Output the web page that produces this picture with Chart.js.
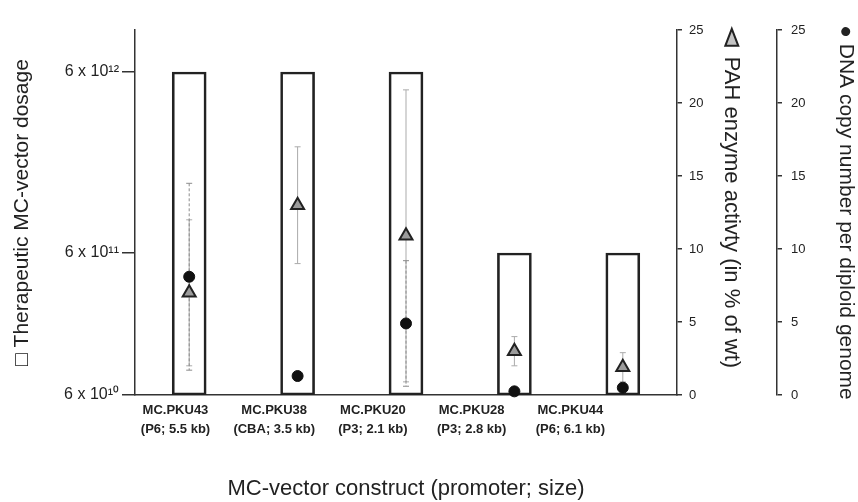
<!DOCTYPE html>
<html>
<head>
<meta charset="utf-8">
<script src="https://cdn.jsdelivr.net/npm/chart.js@4.4.1/dist/chart.umd.min.js"></script>
<style>
  html, body { margin: 0; padding: 0; background: #fff; }
</style>
</head>
<body>
<canvas id="chart" width="858" height="502"></canvas>
<script>
// values
const constructs = [
  ["MC.PKU43", "(P6; 5.5 kb)"],
  ["MC.PKU38", "(CBA; 3.5 kb)"],
  ["MC.PKU20", "(P3; 2.1 kb)"],
  ["MC.PKU28", "(P3; 2.8 kb)"],
  ["MC.PKU44", "(P6; 6.1 kb)"],
];
const dosage = [6e12, 6e12, 6e12, 6e11, 6e11];
const pahActivity = [7.0, 13.0, 10.9, 3.0, 1.9];
const pahError = [5.0, 4.0, 10.0, 1.0, 1.0];
const dnaCopies = [8.1, 1.3, 4.9, 0.25, 0.5];
const dnaError = [6.4, 0, 4.3, 0, 0.3];
const dosageTicks = [6e10, 6e11, 6e12];
const dosageTickLabels = ["6 x 10¹⁰", "6 x 10¹¹", "6 x 10¹²"];

// the dosage axis in the figure is not evenly spaced per decade,
// so the decades sit at these fractions of the axis height
const doseAxisFractions = [0, 0.389, 0.885];

const fontFamily = "'Liberation Sans', Arial, Helvetica, sans-serif";
Chart.defaults.font.family = fontFamily;
Chart.defaults.color = "#222";

class DosageScale extends Chart.Scale {
  static id = "dosage";
  static defaults = {};

  determineDataLimits() {
    this.min = dosageTicks[0];
    this.max = dosageTicks[dosageTicks.length - 1];
  }

  buildTicks() {
    return dosageTicks.map((v) => ({ value: v }));
  }

  getLabelForValue(v) {
    return String(v);
  }

  toDecimal(v) {
    const logs = dosageTicks.map(Math.log10);
    const fr = doseAxisFractions;
    if (!(v > 0)) v = this.min;
    const lv = Math.log10(v);
    let i = 0;
    while (i < logs.length - 2 && lv > logs[i + 1]) i++;
    return fr[i] + ((lv - logs[i]) / (logs[i + 1] - logs[i])) * (fr[i + 1] - fr[i]);
  }

  getPixelForValue(v) {
    return this.getPixelForDecimal(this.toDecimal(v));
  }

  getValueForPixel(p) {
    const d = this.getDecimalForPixel(p);
    const logs = dosageTicks.map(Math.log10);
    const fr = doseAxisFractions;
    let i = 0;
    while (i < fr.length - 2 && d > fr[i + 1]) i++;
    return Math.pow(10, logs[i] + ((d - fr[i]) / (fr[i + 1] - fr[i])) * (logs[i + 1] - logs[i]));
  }
}
Chart.register(DosageScale);

const errorBars = {
  id: "errorBars",
  afterDatasetDraw(chart, args) {
    if (args.meta.type !== "bar") return;
    const { ctx, scales } = chart;
    const sets = [
      { values: pahActivity, errors: pahError, scale: scales.yPah, color: "#ababab", dash: [] },
      { values: dnaCopies, errors: dnaError, scale: scales.yDna, color: "#8c8c8c", dash: [3, 2] },
    ];
    ctx.save();
    ctx.lineWidth = 1;
    for (const s of sets) {
      ctx.strokeStyle = s.color;
      s.values.forEach((v, i) => {
        if (!s.errors[i]) return;
        const x = scales.x.getPixelForValue(i);
        const top = s.scale.getPixelForValue(v + s.errors[i]);
        const bot = s.scale.getPixelForValue(v - s.errors[i]);
        ctx.setLineDash(s.dash);
        ctx.beginPath();
        ctx.moveTo(x, top);
        ctx.lineTo(x, bot);
        ctx.stroke();
        ctx.setLineDash([]);
        ctx.beginPath();
        ctx.moveTo(x - 3, top);
        ctx.lineTo(x + 3, top);
        ctx.moveTo(x - 3, bot);
        ctx.lineTo(x + 3, bot);
        ctx.stroke();
      });
    }
    ctx.restore();
  },
};

// grey triangle key in front of the PAH axis title
const pahKey = {
  id: "pahKey",
  afterDraw(chart) {
    const sc = chart.scales.yPah;
    const t = sc.options.title;
    const f = Chart.helpers.toFont(t.font);
    const ctx = chart.ctx;
    ctx.save();
    ctx.font = f.string;
    const w = ctx.measureText(t.text).width;
    const x = sc.right - (f.lineHeight / 2 + t.padding.top) + 1;
    const y = (sc.top + sc.bottom) / 2 - w / 2 - 19;
    ctx.fillStyle = "#c4c4c4";
    ctx.strokeStyle = "#222";
    ctx.lineWidth = 2;
    ctx.lineJoin = "miter";
    ctx.beginPath();
    ctx.moveTo(x, y - 9);
    ctx.lineTo(x + 6.5, y + 8);
    ctx.lineTo(x - 6.5, y + 8);
    ctx.closePath();
    ctx.fill();
    ctx.stroke();
    ctx.restore();
  },
};

const axisLine = { color: "#333", width: 1.5 };

new Chart(document.getElementById("chart"), {
  type: "bar",
  data: {
    labels: constructs.map((c) => c[0]),
    datasets: [
      {
        type: "bar",
        label: "Therapeutic MC-vector dosage",
        data: dosage,
        xAxisID: "x",
        yAxisID: "yd",
        backgroundColor: "rgba(255,255,255,0)",
        borderColor: "#222",
        borderWidth: 2,
        borderSkipped: false,
        barThickness: 34,
        order: 3,
      },
      {
        type: "line",
        label: "PAH enzyme activity",
        data: pahActivity,
        xAxisID: "x",
        yAxisID: "yPah",
        showLine: false,
        pointStyle: "triangle",
        pointRadius: 7.5,
        pointBackgroundColor: "#9c9c9c",
        pointBorderColor: "#222",
        pointBorderWidth: 2,
        clip: false,
        order: 2,
      },
      {
        type: "line",
        label: "DNA copy number",
        data: dnaCopies,
        xAxisID: "x",
        yAxisID: "yDna",
        showLine: false,
        pointStyle: "circle",
        pointRadius: 5.5,
        pointBackgroundColor: "#111",
        pointBorderColor: "#111",
        pointBorderWidth: 1,
        clip: false,
        order: 1,
      },
    ],
  },
  options: {
    responsive: false,
    animation: false,
    layout: { padding: { top: 30, left: 0, right: 0, bottom: 0 } },
    plugins: { legend: { display: false }, tooltip: { enabled: false } },
    scales: {
      x: { type: "category", display: false, offset: true },
      xl: {
        type: "linear",
        position: "bottom",
        offset: false,
        min: 0.59,
        max: 6.08,
        afterBuildTicks: (s) => {
          s.ticks = constructs.map((c, i) => ({ value: i + 1 }));
        },
        afterFit: (s) => {
          s.height = 107;
        },
        grid: { offset: false, drawOnChartArea: false, drawTicks: false },
        border: axisLine,
        ticks: {
          autoSkip: false,
          maxRotation: 0,
          padding: 6,
          color: "#222",
          font: { size: 13, weight: "bold", lineHeight: 1.45 },
          callback: (v) => constructs[v - 1] || "",
        },
        title: {
          display: true,
          text: "MC-vector construct (promoter; size)",
          color: "#222",
          font: { size: 22 },
          padding: { top: 1, bottom: 0 },
        },
      },
      yd: {
        type: "dosage",
        position: "left",
        afterFit: (s) => {
          s.width = 135;
        },
        grid: { drawOnChartArea: false, tickLength: 13, color: "#333", lineWidth: 1.5 },
        border: axisLine,
        ticks: {
          padding: 3,
          color: "#222",
          font: { size: 16 },
          callback: (v, i) => dosageTickLabels[i],
        },
        title: {
          display: true,
          text: "□ Therapeutic MC-vector dosage",
          color: "#222",
          font: { size: 21 },
          padding: { top: 10, bottom: 0 },
        },
      },
      yPah: {
        type: "linear",
        position: "right",
        weight: 0,
        min: 0,
        max: 25,
        afterFit: (s) => {
          s.width = 100;
        },
        grid: { drawOnChartArea: false, tickLength: 5, color: "#333", lineWidth: 1.5 },
        border: axisLine,
        ticks: { stepSize: 5, padding: 7, color: "#222", font: { size: 13 } },
        title: {
          display: true,
          text: "PAH enzyme activty (in % of wt)",
          color: "#222",
          font: { size: 22 },
          padding: { top: 33, bottom: 0 },
        },
      },
      yDna: {
        type: "linear",
        position: "right",
        weight: 1,
        min: 0,
        max: 25,
        afterFit: (s) => {
          s.width = 81;
        },
        grid: { drawOnChartArea: false, tickLength: 5, color: "#333", lineWidth: 1.5 },
        border: axisLine,
        ticks: { stepSize: 5, padding: 9, color: "#222", font: { size: 13 } },
        title: {
          display: true,
          text: "● DNA copy number per diploid genome",
          color: "#222",
          font: { size: 21 },
          padding: { top: 0, bottom: 0 },
        },
      },
    },
  },
  plugins: [errorBars, pahKey],
});
</script>
</body>
</html>
